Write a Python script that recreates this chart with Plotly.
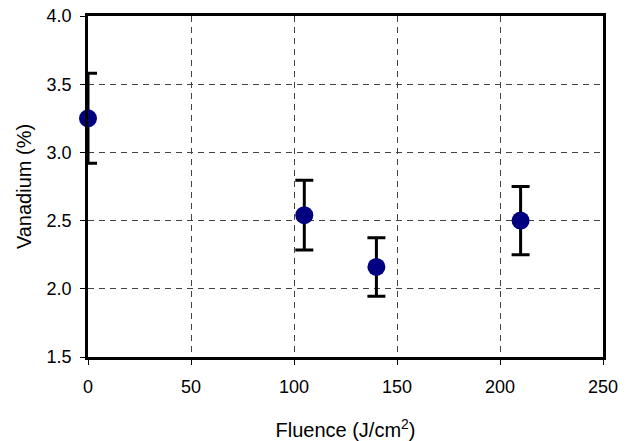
import plotly.graph_objects as go

fluence = [0, 105, 140, 210]
vanadium = [3.25, 2.54, 2.16, 2.50]
vanadium_err = [0.33, 0.255, 0.215, 0.25]

fig = go.Figure()
fig.add_trace(go.Scatter(
    x=fluence, y=vanadium, mode="markers",
    marker=dict(color="#000080", size=18, line=dict(width=0)),
    error_y=dict(type="data", array=vanadium_err, visible=True,
                 color="black", thickness=3, width=9),
    cliponaxis=False, showlegend=False,
))

tick_font = dict(family="Liberation Sans, Arial, sans-serif", size=18, color="black")
title_font = dict(family="Liberation Sans, Arial, sans-serif", size=20, color="black")
fig.update_layout(
    width=632, height=441,
    margin=dict(l=88, r=29, t=16, b=84),
    paper_bgcolor="white", plot_bgcolor="white",
    font=tick_font,
    xaxis=dict(
        range=[0, 250], tickvals=[0, 50, 100, 150, 200, 250],
        showline=True, linecolor="black", linewidth=2.5, mirror=True,
        ticks="outside", ticklen=5, tickcolor="black", tickwidth=1,
        ticklabelstandoff=7, tickfont=tick_font,
        showgrid=True, gridcolor="#444444", gridwidth=1, griddash="6px,5px",
        zeroline=False,
        title=dict(text="Fluence (J/cm<sup>2</sup>)", standoff=31, font=title_font),
        automargin=False,
    ),
    yaxis=dict(
        range=[1.5, 4.0], tickvals=[1.5, 2.0, 2.5, 3.0, 3.5, 4.0],
        tickformat=".1f",
        showline=True, linecolor="black", linewidth=2.5, mirror=True,
        ticks="outside", ticklen=5, tickcolor="black", tickwidth=1,
        ticklabelstandoff=5, tickfont=tick_font,
        showgrid=True, gridcolor="#444444", gridwidth=1, griddash="6px,5px",
        zeroline=False,
        title=dict(text="Vanadium (%)", standoff=10, font=title_font),
        automargin=False,
    ),
)
fig.write_html("out.html")
